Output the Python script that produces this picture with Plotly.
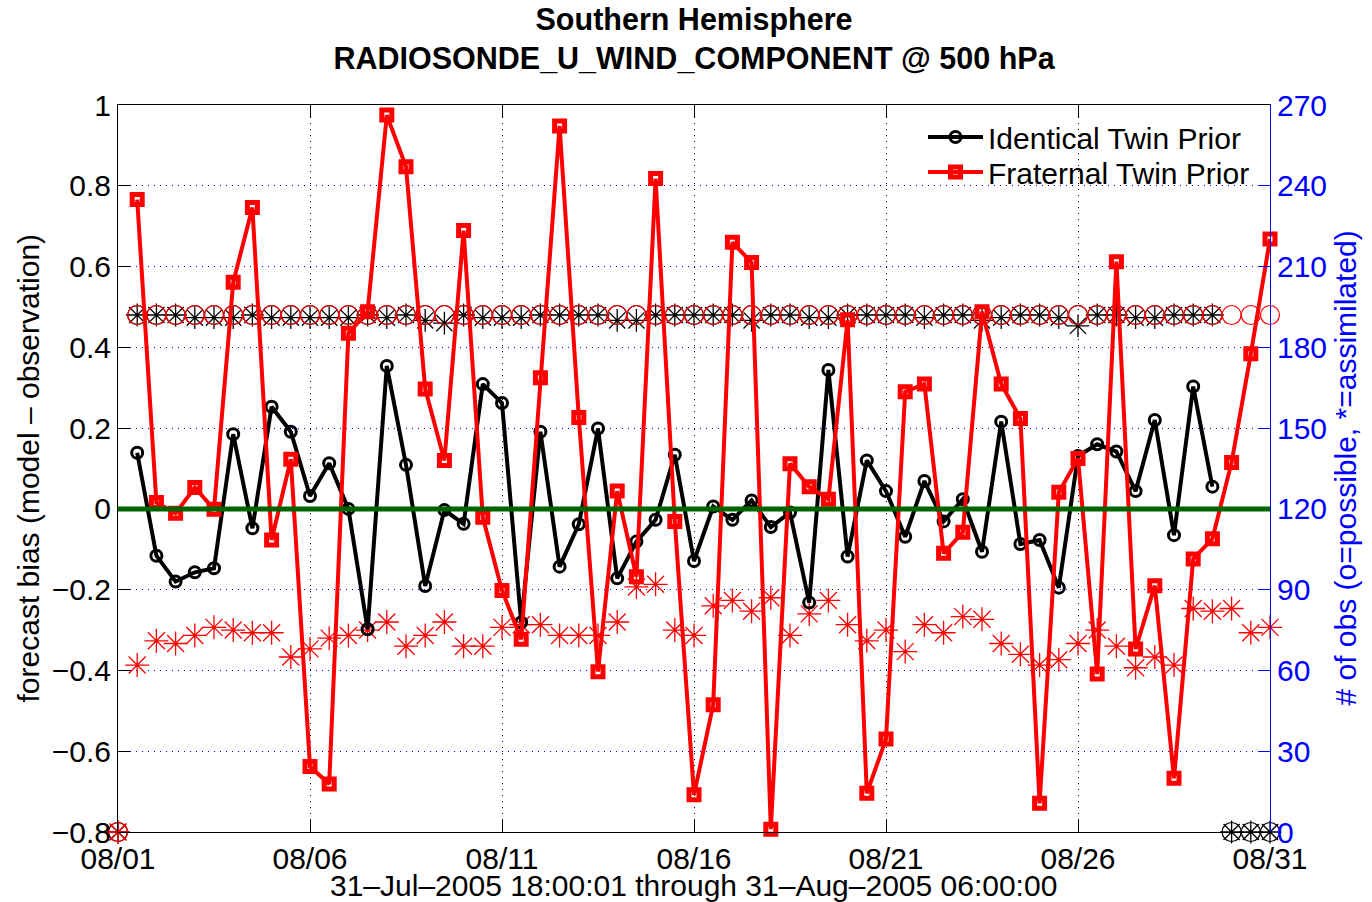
import datetime as dt
import plotly.graph_objects as go

# ---------------- data ----------------
start = dt.datetime(2005, 8, 1, 0, 0)
n_times = 61  # 08/01 00Z .. 08/31 00Z every 12 h
times = [start + dt.timedelta(hours=12 * i) for i in range(n_times)]
bias_times = times[1:]

identical_bias = [
    0.139, -0.116, -0.180, -0.157, -0.147, 0.185, -0.048, 0.253, 0.191, 0.032,
    0.113, 0.000, -0.298, 0.354, 0.109, -0.191, -0.003, -0.037, 0.309, 0.262,
    -0.281, 0.191, -0.143, -0.038, 0.199, -0.172, -0.081, -0.027, 0.134, -0.129,
    0.006, -0.027, 0.021, -0.045, -0.009, -0.232, 0.344, -0.118, 0.120, 0.044,
    -0.069, 0.069, -0.031, 0.024, -0.106, 0.216, -0.087, -0.077, -0.195, 0.131,
    0.160, 0.142, 0.044, 0.220, -0.065, 0.303, 0.055, None, None, None,
]

fraternal_bias = [
    0.766, 0.016, -0.011, 0.053, -0.001, 0.561, 0.746, -0.077, 0.123, -0.638,
    -0.681, 0.435, 0.488, 0.975, 0.847, 0.297, 0.120, 0.689, -0.021, -0.202,
    -0.323, 0.325, 0.948, 0.226, -0.403, 0.044, -0.168, 0.818, -0.031, -0.708,
    -0.485, 0.660, 0.610, -0.793, 0.112, 0.055, 0.024, 0.468, -0.704, -0.570,
    0.290, 0.309, -0.110, -0.058, 0.488, 0.309, 0.224, -0.729, 0.041, 0.125,
    -0.409, 0.612, -0.347, -0.190, -0.667, -0.124, -0.074, 0.115, 0.384, 0.668,
]

identical_possible = [
    0,
    192, 192, 192, 192, 192, 192, 192, 192, 192, 192,
    192, 192, 192, 192, 192, 192, 192, 192, 192, 192,
    192, 192, 192, 192, 192, 192, 192, 192, 192, 192,
    192, 192, 192, 192, 192, 192, 192, 192, 192, 192,
    192, 192, 192, 192, 192, 192, 192, 192, 192, 192,
    192, 192, 192, 192, 192, 192, 192, 0, 0, 0,
]
identical_used = [
    0,
    192, 192, 192, 191, 191, 191, 192, 191, 191, 191,
    191, 191, 192, 191, 192, 190, 189, 192, 191, 191,
    191, 192, 192, 192, 192, 190, 190, 192, 192, 192,
    192, 192, 190, 192, 192, 191, 191, 192, 192, 192,
    192, 191, 192, 192, 190, 191, 192, 192, 191, 188,
    192, 192, 191, 191, 192, 192, 192, 0, 0, 0,
]
fraternal_possible = [
    0,
    192, 192, 192, 192, 192, 192, 192, 192, 192, 192,
    192, 192, 192, 192, 192, 192, 192, 192, 192, 192,
    192, 192, 192, 192, 192, 192, 192, 192, 192, 192,
    192, 192, 192, 192, 192, 192, 192, 192, 192, 192,
    192, 192, 192, 192, 192, 192, 192, 192, 192, 192,
    192, 192, 192, 192, 192, 192, 192, 192, 192, 192,
]
fraternal_used = [
    0,
    62, 71, 70, 73, 76, 75, 74, 74, 65, 68,
    72, 73, 75, 78, 69, 73, 78, 69, 69, 76,
    77, 77, 73, 73, 73, 78, 91, 92, 75, 73,
    84, 86, 82, 87, 73, 81, 86, 77, 71, 75,
    67, 77, 74, 80, 79, 70, 66, 62, 64, 70,
    75, 69, 61, 65, 62, 83, 82, 83, 74, 76,
]

x_tick_vals = [dt.datetime(2005, 8, d) for d in (1, 6, 11, 16, 21, 26, 31)]
bias_ticks = [-0.8, -0.6, -0.4, -0.2, 0.0, 0.2, 0.4, 0.6, 0.8, 1.0]
count_ticks = [0, 30, 60, 90, 120, 150, 180, 210, 240, 270]

FONT = "Liberation Sans, Arial, Helvetica, sans-serif"
BLUE = "#0000ff"

# plot-area geometry (page pixels)
W, H = 1372, 902
L, R, T, B = 118, 1270, 105, 832
PW, PH = R - L, B - T


def px_x(x):
    return (x - L) / PW


def px_y(y):
    return (B - y) / PH


fig = go.Figure()

# obs counts (right axis, drawn underneath)
fig.add_trace(go.Scatter(x=times, y=identical_possible, mode="markers", yaxis="y", cliponaxis=False,
                         marker=dict(symbol="circle-open", size=19, color="black", line=dict(width=1.2)),
                         showlegend=False, hoverinfo="skip"))
fig.add_trace(go.Scatter(x=times, y=identical_used, mode="markers", yaxis="y", cliponaxis=False,
                         marker=dict(symbol="asterisk-open", size=19, color="black", line=dict(width=1.3, color="black")),
                         showlegend=False, hoverinfo="skip"))
fig.add_trace(go.Scatter(x=times, y=fraternal_possible, mode="markers", yaxis="y", cliponaxis=False,
                         marker=dict(symbol="circle-open", size=19, color="red", line=dict(width=1.2, color="red")),
                         showlegend=False, hoverinfo="skip"))
fig.add_trace(go.Scatter(x=times, y=fraternal_used, mode="markers", yaxis="y", cliponaxis=False,
                         marker=dict(symbol="asterisk-open", size=20, color="red", line=dict(width=1.3, color="red")),
                         showlegend=False, hoverinfo="skip"))

# bias lines (left axis, on top)
fig.add_trace(go.Scatter(x=bias_times, y=identical_bias, mode="lines+markers", yaxis="y2",
                         name="Identical Twin Prior", legend="legend", cliponaxis=False,
                         line=dict(color="black", width=4),
                         marker=dict(symbol="circle-open", size=11, color="black", line=dict(width=3, color="black"))))
fig.add_trace(go.Scatter(x=bias_times, y=fraternal_bias, mode="lines+markers", yaxis="y2",
                         name="Fraternal Twin Prior", legend="legend2", cliponaxis=False,
                         line=dict(color="red", width=4),
                         marker=dict(symbol="square-open", size=10, color="red", line=dict(width=5, color="red"))))

fig.add_shape(type="line", xref="paper", x0=0, x1=1, yref="y2", y0=0, y1=0,
              line=dict(color="#006400", width=5), layer="above")

legend_common = dict(x=px_x(923), xanchor="left", yanchor="middle",
                     bgcolor="rgba(0,0,0,0)", borderwidth=0,
                     font=dict(size=30), itemwidth=55)

fig.update_layout(
    width=W, height=H,
    margin=dict(l=L, r=W - R, t=T, b=H - B),
    paper_bgcolor="white", plot_bgcolor="white",
    font=dict(family=FONT, size=30, color="black"),
    title=dict(text="<b>Southern Hemisphere</b><br><b>RADIOSONDE_U_WIND_COMPONENT @ 500 hPa</b>",
               x=694 / W, xanchor="center", y=1 - 29.5 / H, yanchor="middle",
               yref="container", font=dict(family=FONT, size=30.5, color="black")),
    xaxis=dict(type="date", range=[x_tick_vals[0], x_tick_vals[-1]], tickvals=x_tick_vals,
               tickformat="%m/%d", ticks="inside", ticklen=12, tickcolor="black",
               showline=True, linecolor="black", linewidth=1, mirror="ticks",
               showgrid=True, gridcolor="black", griddash="1px,5px", gridwidth=1,
               zeroline=False, tickfont=dict(size=30)),
    yaxis=dict(range=[0, 270], tickvals=count_ticks, side="right",
               ticks="inside", ticklen=12, tickcolor=BLUE,
               showline=True, linecolor=BLUE, linewidth=1,
               showgrid=True, gridcolor=BLUE, griddash="1px,5px", gridwidth=1,
               zeroline=False, tickfont=dict(color=BLUE, size=30)),
    yaxis2=dict(range=[-0.8, 1.0], tickvals=bias_ticks, side="left", overlaying="y",
                ticks="inside", ticklen=12, tickcolor="black",
                showline=True, linecolor="black", linewidth=1,
                showgrid=False, zeroline=False, tickfont=dict(size=30)),
    legend=dict(y=px_y(137), **legend_common),
    legend2=dict(y=px_y(172), **legend_common),
    annotations=[
        dict(text="31–Jul–2005 18:00:01 through 31–Aug–2005 06:00:00",
             xref="paper", yref="paper", x=px_x(693), y=px_y(885),
             xanchor="center", yanchor="middle", showarrow=False, font=dict(size=30)),
        dict(text="forecast bias (model – observation)", textangle=-90,
             xref="paper", yref="paper", x=px_x(28), y=0.5,
             xanchor="center", yanchor="middle", showarrow=False, font=dict(size=30)),
        dict(text="# of obs (o=possible, *=assimilated)", textangle=-90,
             xref="paper", yref="paper", x=px_x(1345), y=0.5,
             xanchor="center", yanchor="middle", showarrow=False, font=dict(size=30, color=BLUE)),
    ],
)

fig.write_html("out.html",
               config={"displayModeBar": False},
               post_script="document.body.style.margin='0';document.body.style.padding='0';"
                           "document.body.style.overflow='hidden';")
